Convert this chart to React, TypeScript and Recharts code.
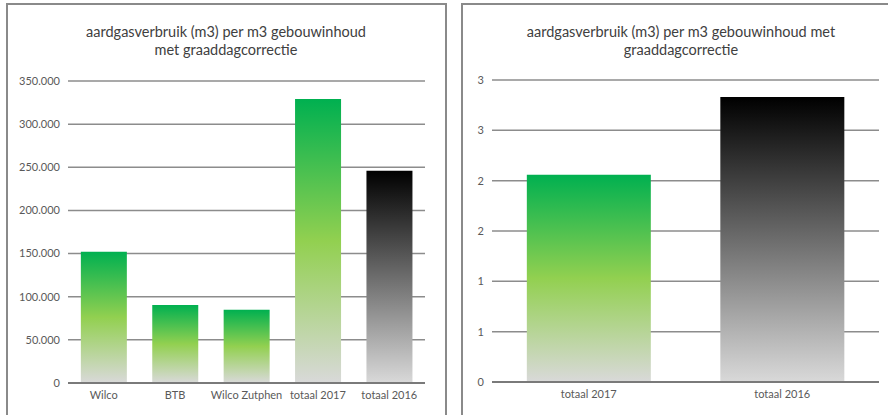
import React from 'react';
import { BarChart, Bar, Cell, XAxis, YAxis, CartesianGrid } from 'recharts';

const leftCategories = ['Wilco', 'BTB', 'Wilco Zutphen', 'totaal 2017', 'totaal 2016'];
const leftValues = [152000, 90500, 85000, 329000, 246000];
const leftTicks = [0, 50000, 100000, 150000, 200000, 250000, 300000, 350000];

const rightCategories = ['totaal 2017', 'totaal 2016'];
const rightValues = [2.06, 2.83];
const rightTicks = [0, 0.5, 1, 1.5, 2, 2.5, 3];

const titleLeft = ['aardgasverbruik (m3) per m3 gebouwinhoud', 'met graaddagcorrectie'];
const titleRight = ['aardgasverbruik (m3) per m3 gebouwinhoud met', 'graaddagcorrectie'];

const FONT = 'Lato, "Open Sans", sans-serif';
const TEXT = '#595959';
const GRID = '#8c8c8c';

const formatThousands = (v: number): string =>
  String(Math.round(v)).replace(/\B(?=(\d{3})+(?!\d))/g, '.');

const formatRounded = (v: number): string => String(Math.round(v));

const fillFor = (name: string) => (name === 'totaal 2016' ? 'url(#gradBlack)' : 'url(#gradGreen)');

const Gradients: React.FC = () => (
  <defs>
    <linearGradient id="gradGreen" x1="0" y1="0" x2="0" y2="1">
      <stop offset="0%" stopColor="#00b050" />
      <stop offset="50%" stopColor="#92d050" />
      <stop offset="100%" stopColor="#d9d9d9" />
    </linearGradient>
    <linearGradient id="gradBlack" x1="0" y1="0" x2="0" y2="1">
      <stop offset="0%" stopColor="#000000" />
      <stop offset="100%" stopColor="#d9d9d9" />
    </linearGradient>
  </defs>
);

const Title: React.FC<{ lines: string[]; center: number }> = ({ lines, center }) => (
  <div
    style={{
      position: 'absolute',
      left: center - 200,
      top: 23,
      width: 400,
      textAlign: 'center',
      fontFamily: FONT,
      fontSize: 14.5,
      lineHeight: '18px',
      color: '#404040',
    }}
  >
    {lines.map((l) => (
      <div key={l}>{l}</div>
    ))}
  </div>
);

export default function App() {
  const leftData = leftCategories.map((name, i) => ({ name, value: leftValues[i] }));
  const rightData = rightCategories.map((name, i) => ({ name, value: rightValues[i] }));

  const tickStyle = { fill: TEXT, fontSize: 11, fontFamily: FONT };

  return (
    <div
      style={{
        position: 'absolute',
        left: 0,
        top: 0,
        width: 888,
        height: 415,
        overflow: 'hidden',
        background: '#fff',
      }}
    >
      <div
        style={{
          position: 'absolute',
          left: 6,
          top: 3,
          width: 437,
          height: 440,
          border: '2px solid #8a8a8a',
        }}
      />
      <div
        style={{
          position: 'absolute',
          left: 461,
          top: 3,
          width: 460,
          height: 440,
          border: '2px solid #8a8a8a',
        }}
      />
      <Title lines={titleLeft} center={226} />
      <Title lines={titleRight} center={681} />

      <div style={{ position: 'absolute', left: 6, top: 0 }}>
        <BarChart
          width={440}
          height={415}
          data={leftData}
          margin={{ top: 81, right: 21, bottom: 0, left: 0 }}
          barCategoryGap="18%"
        >
          <Gradients />
          <CartesianGrid vertical={false} stroke={GRID} strokeWidth={1.5} />
          <XAxis
            dataKey="name"
            height={32}
            tick={tickStyle}
            tickLine={false}
            axisLine={{ stroke: '#7a7a7a', strokeWidth: 2 }}
            interval={0}
          />
          <YAxis
            width={62}
            domain={[0, 350000]}
            ticks={leftTicks}
            tickFormatter={formatThousands}
            tick={tickStyle}
            tickLine={false}
            axisLine={false}
          />
          <Bar dataKey="value" isAnimationActive={false}>
            {leftData.map((d) => (
              <Cell key={d.name} fill={fillFor(d.name)} />
            ))}
          </Bar>
        </BarChart>
      </div>

      <div style={{ position: 'absolute', left: 461, top: 0 }}>
        <BarChart
          width={427}
          height={415}
          data={rightData}
          margin={{ top: 80, right: 9, bottom: 0, left: 0 }}
          barCategoryGap="18%"
        >
          <Gradients />
          <CartesianGrid vertical={false} stroke={GRID} strokeWidth={1.5} />
          <XAxis
            dataKey="name"
            height={33}
            tick={tickStyle}
            tickLine={false}
            axisLine={{ stroke: '#7a7a7a', strokeWidth: 2 }}
            interval={0}
          />
          <YAxis
            width={31}
            domain={[0, 3]}
            ticks={rightTicks}
            tickFormatter={formatRounded}
            tick={tickStyle}
            tickLine={false}
            axisLine={false}
          />
          <Bar dataKey="value" isAnimationActive={false}>
            {rightData.map((d) => (
              <Cell key={d.name} fill={fillFor(d.name)} />
            ))}
          </Bar>
        </BarChart>
      </div>
    </div>
  );
}
